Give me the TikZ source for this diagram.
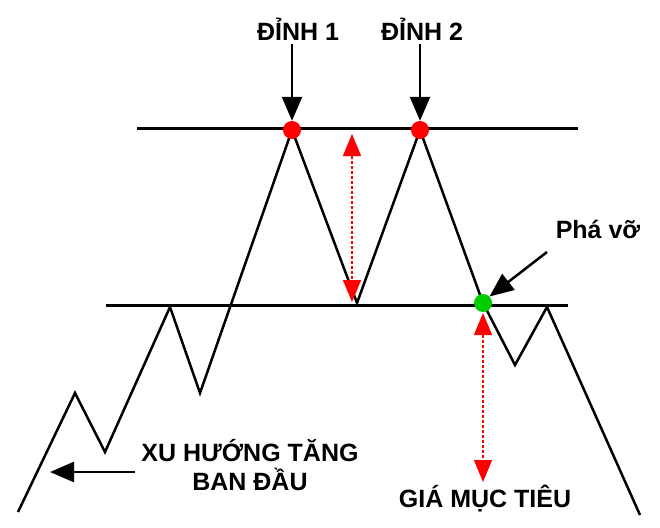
\documentclass[tikz,border=0pt]{standalone}
\usepackage{fontspec}
\setmainfont{Liberation Sans}
\usetikzlibrary{arrows.meta}
\begin{document}
\begin{tikzpicture}[x=1pt,y=-1pt,
  lbl/.style={font=\bfseries\fontsize{25}{29}\selectfont, align=center, inner sep=0pt},
  ln/.style={line width=3pt},
  blk/.style={line width=2.5pt,-{Triangle[length=24pt,width=20pt]}},
  rd/.style={red, densely dashed, line width=1.3pt,{Triangle[length=22pt,width=18pt]}-{Triangle[length=22pt,width=18pt]}},
  dot/.style={circle, inner sep=0pt, minimum size=18pt}]
\useasboundingbox (0,0) rectangle (660,527);
\coordinate (t1) at (137,128); \coordinate (t2) at (578,128);
\coordinate (b1) at (106,305); \coordinate (b2) at (568,305);
\draw[ln] (t1) -- (t2);
\draw[ln] (b1) -- (b2);
\draw[line width=2.5pt] (18,512) -- (75,393) -- (105,452) -- (170,307) -- (200,393) -- (292,130) -- (357,303) -- (420,130) -- (483,303) -- (515,365) -- (547,307) -- (640,515);
\node[dot, fill=red] (p1) at (292,130) {};
\node[dot, fill=red] (p2) at (420,130) {};
\node[dot, fill=green!80!black] (g) at (483,303) {};
\node[lbl] (l1) at (298,29) {ĐỈNH 1};
\node[lbl] (l2) at (422,29) {ĐỈNH 2};
\coordinate (a1) at (292,44); \coordinate (a2) at (420,44);
\draw[blk] (a1) -- (p1.north);
\draw[blk] (a2) -- (p2.north);
\coordinate (r1) at (352,134); \coordinate (r2) at (352,302);
\draw[rd] (r1) -- (r2);
\coordinate (r3) at (483,313); \coordinate (r4) at (483,482);
\draw[rd] (r3) -- (r4);
\node[lbl] (pv) at (598,229) {Phá vỡ};
\coordinate (pvs) at (547,252);
\draw[blk] (pvs) -- (g.north east);
\node[lbl] (xu) at (250,465) {XU HƯỚNG TĂNG\\BAN ĐẦU};
\coordinate (xa) at (135,472); \coordinate (xb) at (50,472);
\draw[blk] (xa) -- (xb);
\node[lbl] (gm) at (485,499) {GIÁ MỤC TIÊU};
\end{tikzpicture}
\end{document}
